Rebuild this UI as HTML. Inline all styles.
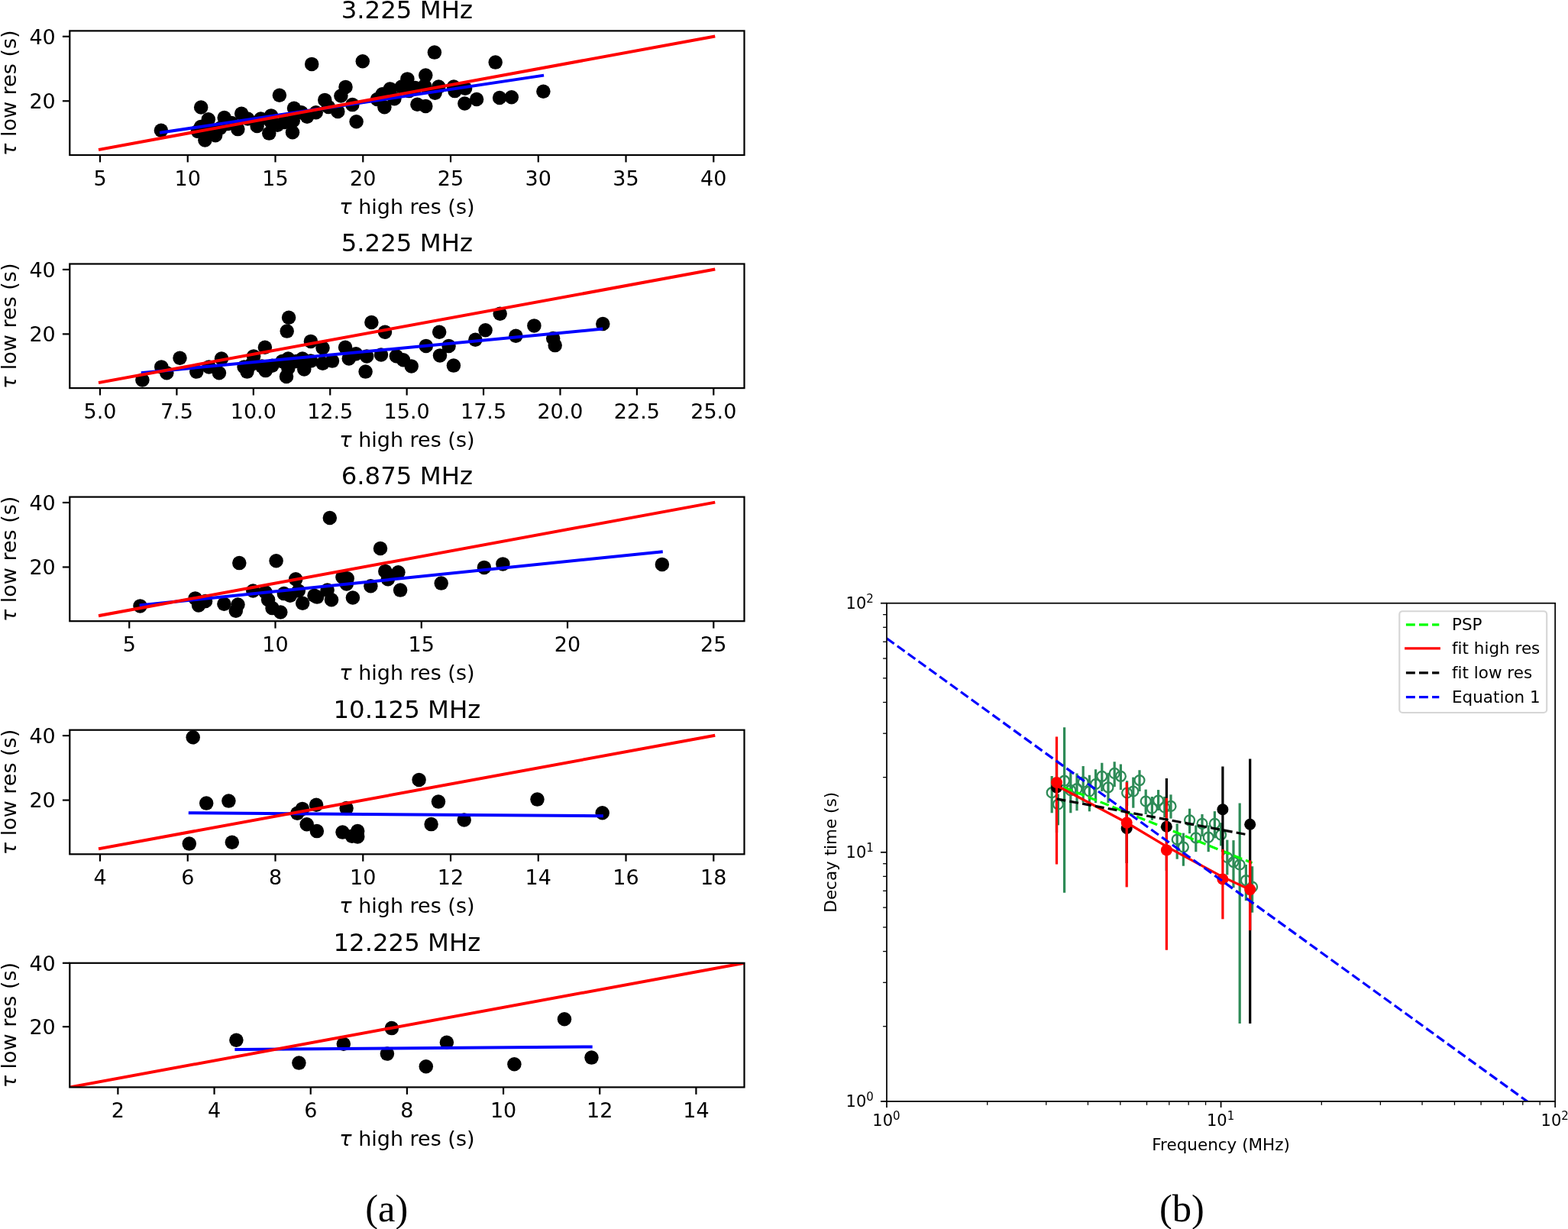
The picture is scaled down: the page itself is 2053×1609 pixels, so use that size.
<!DOCTYPE html><html><head><meta charset="utf-8"><title>Figure</title>
<style>html,body{margin:0;padding:0;background:#fff;}svg{display:block;font-variant-ligatures:none;font-kerning:normal;}</style></head><body>
<svg width="2053" height="1609" viewBox="0 0 2053 1609" font-family="&quot;DejaVu Sans&quot;, &quot;Liberation Sans&quot;, sans-serif" fill="#000">
<rect width="2053" height="1609" fill="#fff"/>
<clipPath id="c0"><rect x="91.3" y="40.4" width="883.2" height="162.6"/></clipPath>
<g clip-path="url(#c0)"><g fill="#000"><circle cx="210.9" cy="170.7" r="9.25"/><circle cx="263.2" cy="140.5" r="9.25"/><circle cx="272.8" cy="156.2" r="9.25"/><circle cx="258.9" cy="171.8" r="9.25"/><circle cx="268.4" cy="183.4" r="9.25"/><circle cx="282.1" cy="177.3" r="9.25"/><circle cx="293.7" cy="154.1" r="9.25"/><circle cx="288.2" cy="167.7" r="9.25"/><circle cx="316.2" cy="148.7" r="9.25"/><circle cx="311.4" cy="169.1" r="9.25"/><circle cx="324.3" cy="155.5" r="9.25"/><circle cx="303.2" cy="160.9" r="9.25"/><circle cx="341.4" cy="155.5" r="9.25"/><circle cx="336.6" cy="165" r="9.25"/><circle cx="355" cy="151.4" r="9.25"/><circle cx="352.3" cy="174.6" r="9.25"/><circle cx="365.9" cy="124.8" r="9.25"/><circle cx="385" cy="141.8" r="9.25"/><circle cx="383" cy="173.2" r="9.25"/><circle cx="363.2" cy="163.7" r="9.25"/><circle cx="383.7" cy="158.2" r="9.25"/><circle cx="402.1" cy="152.7" r="9.25"/><circle cx="413.7" cy="147.3" r="9.25"/><circle cx="425.3" cy="130.9" r="9.25"/><circle cx="442.3" cy="145.9" r="9.25"/><circle cx="446.4" cy="125.5" r="9.25"/><circle cx="452.5" cy="113.9" r="9.25"/><circle cx="408.2" cy="83.9" r="9.25"/><circle cx="461.4" cy="137.1" r="9.25"/><circle cx="466.6" cy="159.3" r="9.25"/><circle cx="394.6" cy="147.3" r="9.25"/><circle cx="474.8" cy="80.2" r="9.25"/><circle cx="568.9" cy="68.6" r="9.25"/><circle cx="648.7" cy="81.6" r="9.25"/><circle cx="493.9" cy="130" r="9.25"/><circle cx="500.7" cy="123.2" r="9.25"/><circle cx="503.4" cy="140.2" r="9.25"/><circle cx="510.9" cy="116.4" r="9.25"/><circle cx="516.4" cy="129.3" r="9.25"/><circle cx="525.9" cy="113.6" r="9.25"/><circle cx="533.4" cy="103.4" r="9.25"/><circle cx="543.7" cy="115" r="9.25"/><circle cx="546.4" cy="136.8" r="9.25"/><circle cx="557.3" cy="98.6" r="9.25"/><circle cx="555.9" cy="112.3" r="9.25"/><circle cx="557.3" cy="138.9" r="9.25"/><circle cx="574.3" cy="113.6" r="9.25"/><circle cx="569.6" cy="121.8" r="9.25"/><circle cx="595.5" cy="119.1" r="9.25"/><circle cx="594.1" cy="113.6" r="9.25"/><circle cx="609.1" cy="115.7" r="9.25"/><circle cx="608.4" cy="135.5" r="9.25"/><circle cx="624.1" cy="130" r="9.25"/><circle cx="654.1" cy="128" r="9.25"/><circle cx="669.8" cy="127.3" r="9.25"/><circle cx="711.4" cy="119.8" r="9.25"/><circle cx="535.5" cy="119.1" r="9.25"/><circle cx="263" cy="166" r="9.25"/><circle cx="275" cy="172" r="9.25"/><circle cx="298" cy="162" r="9.25"/><circle cx="430" cy="140" r="9.25"/><circle cx="354.6" cy="159.1" r="9.25"/><circle cx="372" cy="160" r="9.25"/></g><line x1="211.1" y1="173.6" x2="710.1" y2="98.9" stroke="#0000ff" stroke-width="4" stroke-linecap="square"/><line x1="131" y1="195.61" x2="934.3" y2="47.79" stroke="#ff0000" stroke-width="4" stroke-linecap="square"/></g>
<rect x="91.3" y="40.4" width="883.2" height="162.6" fill="none" stroke="#000" stroke-width="2.2"/>
<g stroke="#000" stroke-width="2.2"><line x1="131" y1="203" x2="131" y2="212.4"/><line x1="245.76" y1="203" x2="245.76" y2="212.4"/><line x1="360.51" y1="203" x2="360.51" y2="212.4"/><line x1="475.27" y1="203" x2="475.27" y2="212.4"/><line x1="590.03" y1="203" x2="590.03" y2="212.4"/><line x1="704.79" y1="203" x2="704.79" y2="212.4"/><line x1="819.54" y1="203" x2="819.54" y2="212.4"/><line x1="934.3" y1="203" x2="934.3" y2="212.4"/><line x1="91.3" y1="132.26" x2="81.9" y2="132.26"/><line x1="91.3" y1="47.79" x2="81.9" y2="47.79"/></g>
<g font-size="27"><text x="131" y="242.6" text-anchor="middle">5</text><text x="245.76" y="242.6" text-anchor="middle">10</text><text x="360.51" y="242.6" text-anchor="middle">15</text><text x="475.27" y="242.6" text-anchor="middle">20</text><text x="590.03" y="242.6" text-anchor="middle">25</text><text x="704.79" y="242.6" text-anchor="middle">30</text><text x="819.54" y="242.6" text-anchor="middle">35</text><text x="934.3" y="242.6" text-anchor="middle">40</text><text x="72.8" y="142.16" text-anchor="end">20</text><text x="72.8" y="57.69" text-anchor="end">40</text></g>
<text x="532.9" y="24.2" font-size="32.4" text-anchor="middle">3.225 MHz</text>
<text x="532.9" y="279.6" font-size="27" text-anchor="middle"><tspan font-style="italic">τ</tspan> high res (s)</text>
<text transform="translate(20.7 121.7) rotate(-90)" font-size="27" text-anchor="middle"><tspan font-style="italic">τ</tspan> low res (s)</text>
<clipPath id="c1"><rect x="91.3" y="345.5" width="883.2" height="162.6"/></clipPath>
<g clip-path="url(#c1)"><g fill="#000"><circle cx="186.4" cy="497.5" r="9.25"/><circle cx="211.3" cy="480.4" r="9.25"/><circle cx="218.3" cy="488.2" r="9.25"/><circle cx="235.5" cy="468.7" r="9.25"/><circle cx="257.3" cy="486.6" r="9.25"/><circle cx="273.6" cy="480.4" r="9.25"/><circle cx="286.9" cy="488.2" r="9.25"/><circle cx="290" cy="469.5" r="9.25"/><circle cx="319.6" cy="480.4" r="9.25"/><circle cx="323.5" cy="486.6" r="9.25"/><circle cx="332.1" cy="466.4" r="9.25"/><circle cx="329" cy="477.3" r="9.25"/><circle cx="346.9" cy="454.7" r="9.25"/><circle cx="343" cy="479.6" r="9.25"/><circle cx="356.3" cy="478.8" r="9.25"/><circle cx="347.7" cy="485.1" r="9.25"/><circle cx="378.1" cy="415.7" r="9.25"/><circle cx="375.7" cy="433.6" r="9.25"/><circle cx="377.3" cy="469.5" r="9.25"/><circle cx="377.3" cy="482" r="9.25"/><circle cx="375" cy="492.9" r="9.25"/><circle cx="396" cy="469.5" r="9.25"/><circle cx="398.3" cy="483.5" r="9.25"/><circle cx="406.9" cy="446.9" r="9.25"/><circle cx="422.5" cy="455.5" r="9.25"/><circle cx="422.5" cy="475.7" r="9.25"/><circle cx="435" cy="472.6" r="9.25"/><circle cx="452.1" cy="454.7" r="9.25"/><circle cx="456.8" cy="469.5" r="9.25"/><circle cx="466.1" cy="463.3" r="9.25"/><circle cx="478.6" cy="486.6" r="9.25"/><circle cx="486.4" cy="422" r="9.25"/><circle cx="480.2" cy="466.4" r="9.25"/><circle cx="406.9" cy="472.6" r="9.25"/><circle cx="504" cy="434.7" r="9.25"/><circle cx="499" cy="464.5" r="9.25"/><circle cx="518.9" cy="466.2" r="9.25"/><circle cx="528" cy="471.2" r="9.25"/><circle cx="538.7" cy="479.4" r="9.25"/><circle cx="557.8" cy="452.9" r="9.25"/><circle cx="575.2" cy="434.7" r="9.25"/><circle cx="587.6" cy="452.9" r="9.25"/><circle cx="576" cy="465.4" r="9.25"/><circle cx="593.9" cy="478.6" r="9.25"/><circle cx="622.4" cy="444.7" r="9.25"/><circle cx="635.6" cy="432.2" r="9.25"/><circle cx="654.7" cy="410.7" r="9.25"/><circle cx="675.4" cy="439.7" r="9.25"/><circle cx="699.4" cy="426.4" r="9.25"/><circle cx="724.2" cy="443" r="9.25"/><circle cx="726.7" cy="452.1" r="9.25"/><circle cx="789.3" cy="424" r="9.25"/><circle cx="388" cy="473" r="9.25"/><circle cx="369.5" cy="473" r="9.25"/></g><line x1="186.8" y1="488.01" x2="787.3" y2="430.79" stroke="#0000ff" stroke-width="4" stroke-linecap="square"/><line x1="131" y1="500.71" x2="934.3" y2="352.89" stroke="#ff0000" stroke-width="4" stroke-linecap="square"/></g>
<rect x="91.3" y="345.5" width="883.2" height="162.6" fill="none" stroke="#000" stroke-width="2.2"/>
<g stroke="#000" stroke-width="2.2"><line x1="131" y1="508.1" x2="131" y2="517.5"/><line x1="231.41" y1="508.1" x2="231.41" y2="517.5"/><line x1="331.82" y1="508.1" x2="331.82" y2="517.5"/><line x1="432.24" y1="508.1" x2="432.24" y2="517.5"/><line x1="532.65" y1="508.1" x2="532.65" y2="517.5"/><line x1="633.06" y1="508.1" x2="633.06" y2="517.5"/><line x1="733.48" y1="508.1" x2="733.48" y2="517.5"/><line x1="833.89" y1="508.1" x2="833.89" y2="517.5"/><line x1="934.3" y1="508.1" x2="934.3" y2="517.5"/><line x1="91.3" y1="437.36" x2="81.9" y2="437.36"/><line x1="91.3" y1="352.89" x2="81.9" y2="352.89"/></g>
<g font-size="27"><text x="131" y="547.7" text-anchor="middle">5.0</text><text x="231.41" y="547.7" text-anchor="middle">7.5</text><text x="331.82" y="547.7" text-anchor="middle">10.0</text><text x="432.24" y="547.7" text-anchor="middle">12.5</text><text x="532.65" y="547.7" text-anchor="middle">15.0</text><text x="633.06" y="547.7" text-anchor="middle">17.5</text><text x="733.48" y="547.7" text-anchor="middle">20.0</text><text x="833.89" y="547.7" text-anchor="middle">22.5</text><text x="934.3" y="547.7" text-anchor="middle">25.0</text><text x="72.8" y="447.26" text-anchor="end">20</text><text x="72.8" y="362.79" text-anchor="end">40</text></g>
<text x="532.9" y="329.3" font-size="32.4" text-anchor="middle">5.225 MHz</text>
<text x="532.9" y="584.7" font-size="27" text-anchor="middle"><tspan font-style="italic">τ</tspan> high res (s)</text>
<text transform="translate(20.7 426.8) rotate(-90)" font-size="27" text-anchor="middle"><tspan font-style="italic">τ</tspan> low res (s)</text>
<clipPath id="c2"><rect x="91.3" y="650.6" width="883.2" height="162.6"/></clipPath>
<g clip-path="url(#c2)"><g fill="#000"><circle cx="183.5" cy="793.4" r="9.25"/><circle cx="255.6" cy="783.4" r="9.25"/><circle cx="260.1" cy="792.5" r="9.25"/><circle cx="269.1" cy="787" r="9.25"/><circle cx="293.4" cy="790.7" r="9.25"/><circle cx="313.3" cy="737.1" r="9.25"/><circle cx="311.5" cy="791.6" r="9.25"/><circle cx="308.8" cy="799.7" r="9.25"/><circle cx="331.3" cy="773.5" r="9.25"/><circle cx="347.5" cy="775.3" r="9.25"/><circle cx="351.1" cy="785.2" r="9.25"/><circle cx="356.5" cy="796.1" r="9.25"/><circle cx="367.3" cy="801.5" r="9.25"/><circle cx="361.6" cy="734.2" r="9.25"/><circle cx="371.8" cy="777.1" r="9.25"/><circle cx="379.9" cy="779.8" r="9.25"/><circle cx="387.2" cy="758.2" r="9.25"/><circle cx="390.8" cy="773.5" r="9.25"/><circle cx="396.2" cy="789.8" r="9.25"/><circle cx="411.5" cy="779.8" r="9.25"/><circle cx="415.1" cy="781.6" r="9.25"/><circle cx="428.6" cy="772.6" r="9.25"/><circle cx="434" cy="785.2" r="9.25"/><circle cx="431.8" cy="678" r="9.25"/><circle cx="448.4" cy="755.5" r="9.25"/><circle cx="454.7" cy="757.3" r="9.25"/><circle cx="453.8" cy="764.5" r="9.25"/><circle cx="461.9" cy="782.5" r="9.25"/><circle cx="485.4" cy="767.2" r="9.25"/><circle cx="498" cy="718" r="9.25"/><circle cx="504.3" cy="747.9" r="9.25"/><circle cx="507.9" cy="758.2" r="9.25"/><circle cx="521.4" cy="749.2" r="9.25"/><circle cx="524.1" cy="772.6" r="9.25"/><circle cx="577.7" cy="763.6" r="9.25"/><circle cx="633.9" cy="742.9" r="9.25"/><circle cx="658.4" cy="738.4" r="9.25"/><circle cx="866.9" cy="738.9" r="9.25"/></g><line x1="184.6" y1="792.29" x2="865.8" y2="722.41" stroke="#0000ff" stroke-width="4" stroke-linecap="square"/><line x1="131" y1="805.81" x2="934.3" y2="657.99" stroke="#ff0000" stroke-width="4" stroke-linecap="square"/></g>
<rect x="91.3" y="650.6" width="883.2" height="162.6" fill="none" stroke="#000" stroke-width="2.2"/>
<g stroke="#000" stroke-width="2.2"><line x1="169.25" y1="813.2" x2="169.25" y2="822.6"/><line x1="360.51" y1="813.2" x2="360.51" y2="822.6"/><line x1="551.78" y1="813.2" x2="551.78" y2="822.6"/><line x1="743.04" y1="813.2" x2="743.04" y2="822.6"/><line x1="934.3" y1="813.2" x2="934.3" y2="822.6"/><line x1="91.3" y1="742.46" x2="81.9" y2="742.46"/><line x1="91.3" y1="657.99" x2="81.9" y2="657.99"/></g>
<g font-size="27"><text x="169.25" y="852.8" text-anchor="middle">5</text><text x="360.51" y="852.8" text-anchor="middle">10</text><text x="551.78" y="852.8" text-anchor="middle">15</text><text x="743.04" y="852.8" text-anchor="middle">20</text><text x="934.3" y="852.8" text-anchor="middle">25</text><text x="72.8" y="752.36" text-anchor="end">20</text><text x="72.8" y="667.89" text-anchor="end">40</text></g>
<text x="532.9" y="634.4" font-size="32.4" text-anchor="middle">6.875 MHz</text>
<text x="532.9" y="889.8" font-size="27" text-anchor="middle"><tspan font-style="italic">τ</tspan> high res (s)</text>
<text transform="translate(20.7 731.9) rotate(-90)" font-size="27" text-anchor="middle"><tspan font-style="italic">τ</tspan> low res (s)</text>
<clipPath id="c3"><rect x="91.3" y="955.7" width="883.2" height="162.6"/></clipPath>
<g clip-path="url(#c3)"><g fill="#000"><circle cx="252.7" cy="965.3" r="9.25"/><circle cx="270.2" cy="1051.6" r="9.25"/><circle cx="299.4" cy="1048.6" r="9.25"/><circle cx="247.8" cy="1104.6" r="9.25"/><circle cx="303.8" cy="1102.7" r="9.25"/><circle cx="389.3" cy="1064.7" r="9.25"/><circle cx="395.9" cy="1058.9" r="9.25"/><circle cx="414.1" cy="1053.8" r="9.25"/><circle cx="401.7" cy="1079.3" r="9.25"/><circle cx="414.9" cy="1088.1" r="9.25"/><circle cx="453.6" cy="1058.1" r="9.25"/><circle cx="448.5" cy="1089.6" r="9.25"/><circle cx="468.2" cy="1088.1" r="9.25"/><circle cx="468.2" cy="1095.4" r="9.25"/><circle cx="460.9" cy="1094.7" r="9.25"/><circle cx="548.6" cy="1021" r="9.25"/><circle cx="574" cy="1049.6" r="9.25"/><circle cx="564.6" cy="1079.1" r="9.25"/><circle cx="607.7" cy="1073.5" r="9.25"/><circle cx="703.5" cy="1046.6" r="9.25"/><circle cx="788.7" cy="1064.3" r="9.25"/></g><line x1="248.8" y1="1064.31" x2="787.9" y2="1068.19" stroke="#0000ff" stroke-width="4" stroke-linecap="square"/><line x1="131" y1="1110.91" x2="934.3" y2="963.09" stroke="#ff0000" stroke-width="4" stroke-linecap="square"/></g>
<rect x="91.3" y="955.7" width="883.2" height="162.6" fill="none" stroke="#000" stroke-width="2.2"/>
<g stroke="#000" stroke-width="2.2"><line x1="131" y1="1118.3" x2="131" y2="1127.7"/><line x1="245.76" y1="1118.3" x2="245.76" y2="1127.7"/><line x1="360.51" y1="1118.3" x2="360.51" y2="1127.7"/><line x1="475.27" y1="1118.3" x2="475.27" y2="1127.7"/><line x1="590.03" y1="1118.3" x2="590.03" y2="1127.7"/><line x1="704.79" y1="1118.3" x2="704.79" y2="1127.7"/><line x1="819.54" y1="1118.3" x2="819.54" y2="1127.7"/><line x1="934.3" y1="1118.3" x2="934.3" y2="1127.7"/><line x1="91.3" y1="1047.56" x2="81.9" y2="1047.56"/><line x1="91.3" y1="963.09" x2="81.9" y2="963.09"/></g>
<g font-size="27"><text x="131" y="1157.9" text-anchor="middle">4</text><text x="245.76" y="1157.9" text-anchor="middle">6</text><text x="360.51" y="1157.9" text-anchor="middle">8</text><text x="475.27" y="1157.9" text-anchor="middle">10</text><text x="590.03" y="1157.9" text-anchor="middle">12</text><text x="704.79" y="1157.9" text-anchor="middle">14</text><text x="819.54" y="1157.9" text-anchor="middle">16</text><text x="934.3" y="1157.9" text-anchor="middle">18</text><text x="72.8" y="1057.46" text-anchor="end">20</text><text x="72.8" y="972.99" text-anchor="end">40</text></g>
<text x="532.9" y="939.5" font-size="32.4" text-anchor="middle">10.125 MHz</text>
<text x="532.9" y="1194.9" font-size="27" text-anchor="middle"><tspan font-style="italic">τ</tspan> high res (s)</text>
<text transform="translate(20.7 1037) rotate(-90)" font-size="27" text-anchor="middle"><tspan font-style="italic">τ</tspan> low res (s)</text>
<clipPath id="c4"><rect x="91.3" y="1260.8" width="883.2" height="162.6"/></clipPath>
<g clip-path="url(#c4)"><g fill="#000"><circle cx="309.4" cy="1361.7" r="9.25"/><circle cx="391.4" cy="1391.6" r="9.25"/><circle cx="449.8" cy="1366.7" r="9.25"/><circle cx="512.9" cy="1346.1" r="9.25"/><circle cx="506.9" cy="1379.6" r="9.25"/><circle cx="557.8" cy="1396.3" r="9.25"/><circle cx="584.9" cy="1364.7" r="9.25"/><circle cx="673.4" cy="1393.3" r="9.25"/><circle cx="739" cy="1334.2" r="9.25"/><circle cx="774.5" cy="1384.6" r="9.25"/></g><line x1="309.4" y1="1373.89" x2="773.7" y2="1370.41" stroke="#0000ff" stroke-width="4" stroke-linecap="square"/><line x1="91.3" y1="1423.4" x2="974.5" y2="1260.8" stroke="#ff0000" stroke-width="4" stroke-linecap="square"/></g>
<rect x="91.3" y="1260.8" width="883.2" height="162.6" fill="none" stroke="#000" stroke-width="2.2"/>
<g stroke="#000" stroke-width="2.2"><line x1="154.39" y1="1423.4" x2="154.39" y2="1432.8"/><line x1="280.56" y1="1423.4" x2="280.56" y2="1432.8"/><line x1="406.73" y1="1423.4" x2="406.73" y2="1432.8"/><line x1="532.9" y1="1423.4" x2="532.9" y2="1432.8"/><line x1="659.07" y1="1423.4" x2="659.07" y2="1432.8"/><line x1="785.24" y1="1423.4" x2="785.24" y2="1432.8"/><line x1="911.41" y1="1423.4" x2="911.41" y2="1432.8"/><line x1="91.3" y1="1344.18" x2="81.9" y2="1344.18"/><line x1="91.3" y1="1260.8" x2="81.9" y2="1260.8"/></g>
<g font-size="27"><text x="154.39" y="1463" text-anchor="middle">2</text><text x="280.56" y="1463" text-anchor="middle">4</text><text x="406.73" y="1463" text-anchor="middle">6</text><text x="532.9" y="1463" text-anchor="middle">8</text><text x="659.07" y="1463" text-anchor="middle">10</text><text x="785.24" y="1463" text-anchor="middle">12</text><text x="911.41" y="1463" text-anchor="middle">14</text><text x="72.8" y="1354.08" text-anchor="end">20</text><text x="72.8" y="1270.7" text-anchor="end">40</text></g>
<text x="532.9" y="1244.6" font-size="32.4" text-anchor="middle">12.225 MHz</text>
<text x="532.9" y="1500" font-size="27" text-anchor="middle"><tspan font-style="italic">τ</tspan> high res (s)</text>
<text transform="translate(20.7 1342.1) rotate(-90)" font-size="27" text-anchor="middle"><tspan font-style="italic">τ</tspan> low res (s)</text>
<clipPath id="cr"><rect x="1161" y="789.7" width="875.2" height="652.2"/></clipPath>
<g clip-path="url(#cr)"><g stroke="#2e8b57" stroke-width="3.22" fill="none"><line x1="1377.2" y1="1016" x2="1377.2" y2="1064.3"/><line x1="1385.4" y1="1039.5" x2="1385.4" y2="1080.3"/><line x1="1393.6" y1="952.3" x2="1393.6" y2="1168.7"/><line x1="1401.8" y1="1011" x2="1401.8" y2="1064.3"/><line x1="1410" y1="1012.4" x2="1410" y2="1061.3"/><line x1="1418.2" y1="1003.1" x2="1418.2" y2="1050.5"/><line x1="1426.4" y1="1014.7" x2="1426.4" y2="1062.3"/><line x1="1434.6" y1="1007.2" x2="1434.6" y2="1051.1"/><line x1="1442.8" y1="998.7" x2="1442.8" y2="1036"/><line x1="1451" y1="1011.7" x2="1451" y2="1051.1"/><line x1="1459.2" y1="997.3" x2="1459.2" y2="1030.1"/><line x1="1467.4" y1="1000.4" x2="1467.4" y2="1034"/><line x1="1475.6" y1="1022.2" x2="1475.6" y2="1055"/><line x1="1483.8" y1="1017.6" x2="1483.8" y2="1057.7"/><line x1="1492" y1="1008.2" x2="1492" y2="1036"/><line x1="1500.2" y1="1033.6" x2="1500.2" y2="1066"/><line x1="1508.4" y1="1043" x2="1508.4" y2="1073.8"/><line x1="1516.6" y1="1034.1" x2="1516.6" y2="1061"/><line x1="1524.8" y1="1043" x2="1524.8" y2="1070"/><line x1="1533" y1="1040.3" x2="1533" y2="1071.6"/><line x1="1541.2" y1="1078.3" x2="1541.2" y2="1124.7"/><line x1="1549.4" y1="1090.6" x2="1549.4" y2="1133.7"/><line x1="1557.6" y1="1058.7" x2="1557.6" y2="1091.2"/><line x1="1565.8" y1="1080.5" x2="1565.8" y2="1115.2"/><line x1="1574" y1="1066" x2="1574" y2="1095.1"/><line x1="1582.2" y1="1080.5" x2="1582.2" y2="1115.2"/><line x1="1590.4" y1="1062.1" x2="1590.4" y2="1097.3"/><line x1="1598.6" y1="1077.2" x2="1598.6" y2="1107.4"/><line x1="1606.8" y1="1099.6" x2="1606.8" y2="1145.4"/><line x1="1615" y1="1100.1" x2="1615" y2="1162.2"/><line x1="1623.2" y1="1051.5" x2="1623.2" y2="1339.9"/><line x1="1631.4" y1="1132" x2="1631.4" y2="1179.2"/><line x1="1639.6" y1="1134.2" x2="1639.6" y2="1194.7"/></g><g stroke="#2e8b57" stroke-width="2.3" fill="none"><circle cx="1377.2" cy="1037.7" r="6.45"/><circle cx="1385.4" cy="1053" r="6.45"/><circle cx="1393.6" cy="1022.2" r="6.45"/><circle cx="1401.8" cy="1034.7" r="6.45"/><circle cx="1410" cy="1032.7" r="6.45"/><circle cx="1418.2" cy="1024.2" r="6.45"/><circle cx="1426.4" cy="1036" r="6.45"/><circle cx="1434.6" cy="1026.5" r="6.45"/><circle cx="1442.8" cy="1016.3" r="6.45"/><circle cx="1451" cy="1030.8" r="6.45"/><circle cx="1459.2" cy="1012.4" r="6.45"/><circle cx="1467.4" cy="1016.3" r="6.45"/><circle cx="1475.6" cy="1038" r="6.45"/><circle cx="1483.8" cy="1036" r="6.45"/><circle cx="1492" cy="1021.6" r="6.45"/><circle cx="1500.2" cy="1049" r="6.45"/><circle cx="1508.4" cy="1058.2" r="6.45"/><circle cx="1516.6" cy="1048.1" r="6.45"/><circle cx="1524.8" cy="1057" r="6.45"/><circle cx="1533" cy="1055.4" r="6.45"/><circle cx="1541.2" cy="1099" r="6.45"/><circle cx="1549.4" cy="1109.1" r="6.45"/><circle cx="1557.6" cy="1073.8" r="6.45"/><circle cx="1565.8" cy="1096.8" r="6.45"/><circle cx="1574" cy="1078.3" r="6.45"/><circle cx="1582.2" cy="1096.2" r="6.45"/><circle cx="1590.4" cy="1078.3" r="6.45"/><circle cx="1598.6" cy="1092.9" r="6.45"/><circle cx="1606.8" cy="1122.5" r="6.45"/><circle cx="1615" cy="1128.6" r="6.45"/><circle cx="1623.2" cy="1132" r="6.45"/><circle cx="1631.4" cy="1152.7" r="6.45"/><circle cx="1639.6" cy="1161.1" r="6.45"/></g><line x1="1377.2" y1="1024.4" x2="1639.6" y2="1129.8" stroke="#00ff00" stroke-width="3.22" stroke-dasharray="11.93 5.16"/><g stroke="#000" stroke-width="3.22"><line x1="1383.5" y1="995" x2="1383.5" y2="1090"/><line x1="1475.2" y1="1040" x2="1475.2" y2="1130"/><line x1="1527.4" y1="1019" x2="1527.4" y2="1140"/><line x1="1600.9" y1="1003.4" x2="1600.9" y2="1115"/><line x1="1636.7" y1="993.6" x2="1636.7" y2="1339.9"/></g><g fill="#000"><circle cx="1383.5" cy="1031" r="7.52"/><circle cx="1475.2" cy="1084.5" r="7.52"/><circle cx="1527.4" cy="1082.2" r="7.52"/><circle cx="1600.9" cy="1059.8" r="7.52"/><circle cx="1636.7" cy="1079.2" r="7.52"/></g><g stroke="#ff0000" stroke-width="3.22"><line x1="1383.5" y1="964.6" x2="1383.5" y2="1131.5"/><line x1="1475.2" y1="1024.1" x2="1475.2" y2="1161.4"/><line x1="1527.4" y1="1044.7" x2="1527.4" y2="1243.7"/><line x1="1600.9" y1="1111.9" x2="1600.9" y2="1203.3"/><line x1="1636.7" y1="1126.4" x2="1636.7" y2="1218"/></g><g fill="#ff0000"><circle cx="1383.5" cy="1024.5" r="7.52"/><circle cx="1475.2" cy="1077.1" r="7.52"/><circle cx="1527.4" cy="1112.9" r="7.52"/><circle cx="1600.9" cy="1151" r="7.52"/><circle cx="1636.7" cy="1164.6" r="7.52"/></g><polyline points="1383.5,1028.5 1475.2,1077 1527.4,1108.3 1600.9,1148.1 1636.7,1164.7" fill="none" stroke="#ff0000" stroke-width="3.22" stroke-linejoin="round"/><line x1="1161" y1="835.7" x2="2036.2" y2="1468.38" stroke="#0000ff" stroke-width="3.22" stroke-dasharray="11.93 5.16"/><line x1="1383.5" y1="1045.9" x2="1636.7" y2="1093.4" stroke="#000" stroke-width="3.22" stroke-dasharray="11.93 5.16"/></g>
<rect x="1161" y="789.7" width="875.2" height="652.2" fill="none" stroke="#000" stroke-width="1.75"/>
<g stroke="#000" stroke-width="1.75"><line x1="1161" y1="1441.9" x2="1161" y2="1449.9"/><line x1="1161" y1="1441.9" x2="1153" y2="1441.9"/><line x1="1598.6" y1="1441.9" x2="1598.6" y2="1449.9"/><line x1="1161" y1="1115.8" x2="1153" y2="1115.8"/><line x1="2036.2" y1="1441.9" x2="2036.2" y2="1449.9"/><line x1="1161" y1="789.7" x2="1153" y2="789.7"/></g>
<g stroke="#000" stroke-width="1.3"><line x1="1292.73" y1="1441.9" x2="1292.73" y2="1446.8"/><line x1="1161" y1="1343.73" x2="1156.1" y2="1343.73"/><line x1="1369.79" y1="1441.9" x2="1369.79" y2="1446.8"/><line x1="1161" y1="1286.31" x2="1156.1" y2="1286.31"/><line x1="1424.46" y1="1441.9" x2="1424.46" y2="1446.8"/><line x1="1161" y1="1245.57" x2="1156.1" y2="1245.57"/><line x1="1466.87" y1="1441.9" x2="1466.87" y2="1446.8"/><line x1="1161" y1="1213.97" x2="1156.1" y2="1213.97"/><line x1="1501.52" y1="1441.9" x2="1501.52" y2="1446.8"/><line x1="1161" y1="1188.14" x2="1156.1" y2="1188.14"/><line x1="1530.81" y1="1441.9" x2="1530.81" y2="1446.8"/><line x1="1161" y1="1166.31" x2="1156.1" y2="1166.31"/><line x1="1556.19" y1="1441.9" x2="1556.19" y2="1446.8"/><line x1="1161" y1="1147.4" x2="1156.1" y2="1147.4"/><line x1="1578.58" y1="1441.9" x2="1578.58" y2="1446.8"/><line x1="1161" y1="1130.72" x2="1156.1" y2="1130.72"/><line x1="1730.33" y1="1441.9" x2="1730.33" y2="1446.8"/><line x1="1161" y1="1017.63" x2="1156.1" y2="1017.63"/><line x1="1807.39" y1="1441.9" x2="1807.39" y2="1446.8"/><line x1="1161" y1="960.21" x2="1156.1" y2="960.21"/><line x1="1862.06" y1="1441.9" x2="1862.06" y2="1446.8"/><line x1="1161" y1="919.47" x2="1156.1" y2="919.47"/><line x1="1904.47" y1="1441.9" x2="1904.47" y2="1446.8"/><line x1="1161" y1="887.87" x2="1156.1" y2="887.87"/><line x1="1939.12" y1="1441.9" x2="1939.12" y2="1446.8"/><line x1="1161" y1="862.04" x2="1156.1" y2="862.04"/><line x1="1968.41" y1="1441.9" x2="1968.41" y2="1446.8"/><line x1="1161" y1="840.21" x2="1156.1" y2="840.21"/><line x1="1993.79" y1="1441.9" x2="1993.79" y2="1446.8"/><line x1="1161" y1="821.3" x2="1156.1" y2="821.3"/><line x1="2016.18" y1="1441.9" x2="2016.18" y2="1446.8"/><line x1="1161" y1="804.62" x2="1156.1" y2="804.62"/></g>
<g font-size="21"><text x="1160.5" y="1473.8" text-anchor="middle">10<tspan font-size="15" dy="-8.0">0</tspan></text><text x="1143.9" y="1449.3" text-anchor="end">10<tspan font-size="15" dy="-8.0">0</tspan></text><text x="1598.1" y="1473.8" text-anchor="middle">10<tspan font-size="15" dy="-8.0">1</tspan></text><text x="1143.9" y="1123.2" text-anchor="end">10<tspan font-size="15" dy="-8.0">1</tspan></text><text x="2035.7" y="1473.8" text-anchor="middle">10<tspan font-size="15" dy="-8.0">2</tspan></text><text x="1143.9" y="797.1" text-anchor="end">10<tspan font-size="15" dy="-8.0">2</tspan></text></g>
<text x="1598.6" y="1505.5" font-size="21.5" text-anchor="middle">Frequency (MHz)</text>
<text transform="translate(1094.8 1115.8) rotate(-90)" font-size="21.5" text-anchor="middle">Decay time (s)</text>
<rect x="1832.3" y="800.2" width="192.9" height="132.8" rx="4" ry="4" fill="#fff" fill-opacity="0.8" stroke="#d6d6d6" stroke-width="2.15"/>
<line x1="1840.9" y1="817.9" x2="1884.3" y2="817.9" stroke="#00ff00" stroke-width="3.2" stroke-dasharray="11.93 5.16"/>
<text x="1901" y="824.8" font-size="21.5">PSP</text>
<line x1="1840.7" y1="848.9" x2="1884.3" y2="848.9" stroke="#ff0000" stroke-width="3.2" stroke-linecap="square"/>
<text x="1901" y="856.4" font-size="21.5">fit high res</text>
<line x1="1840.9" y1="880.9" x2="1884.3" y2="880.9" stroke="#000" stroke-width="3.2" stroke-dasharray="11.93 5.16"/>
<text x="1901" y="888" font-size="21.5">fit low res</text>
<line x1="1840.9" y1="912.7" x2="1884.3" y2="912.7" stroke="#0000ff" stroke-width="3.2" stroke-dasharray="11.93 5.16"/>
<text x="1901" y="919.7" font-size="21.5">Equation 1</text>
<text x="478.2" y="1598.5" font-family="&quot;Liberation Serif&quot;, &quot;DejaVu Serif&quot;, serif" font-size="50.5">(a)</text>
<text x="1518" y="1598.5" font-family="&quot;Liberation Serif&quot;, &quot;DejaVu Serif&quot;, serif" font-size="50.5">(b)</text>
</svg></body></html>
